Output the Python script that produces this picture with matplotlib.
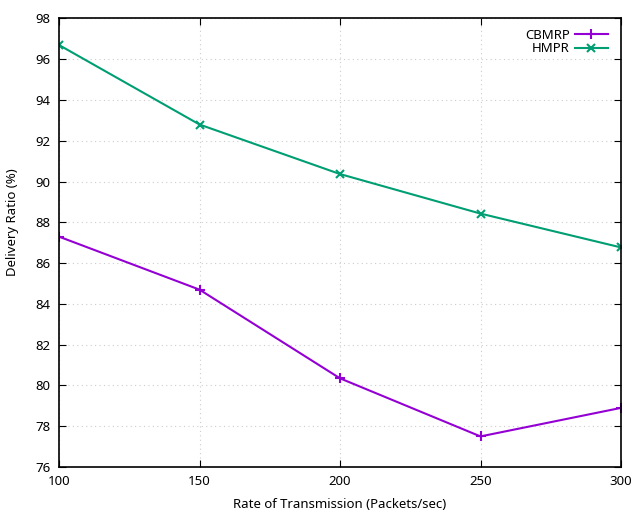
import matplotlib
matplotlib.use("Agg")
import matplotlib.pyplot as plt

plt.rcParams['font.family'] = ['Noto Sans', 'DejaVu Sans']

rate = [100, 150, 200, 250, 300]
cbmrp = [87.3, 84.7, 80.35, 77.5, 78.9]
hmpr = [96.7, 92.8, 90.37, 88.43, 86.77]

fig = plt.figure(figsize=(6.38, 5.11), dpi=100)
ax = fig.add_axes([59/638, 1 - 467/511, (621-59)/638, (467-18.5)/511])

ax.plot(rate, cbmrp, color="#9400D3", lw=1.5, marker="+", ms=7, mew=1.5, label="CBMRP")
ax.plot(rate, hmpr, color="#009E73", lw=1.5, marker="x", ms=6, mew=1.5, label="HMPR")

ax.set_xlim(100, 300)
ax.set_ylim(76, 98)
ax.set_xticks(rate)
ax.set_yticks(range(76, 99, 2))
ax.tick_params(direction="in", top=True, right=True, labelsize=9.5, length=5, pad=6)
ax.grid(True, color="#cccccc", linestyle=(0, (1, 3)), lw=0.8)
for s in ax.spines.values():
    s.set_linewidth(1.2)

ax.set_xlabel("Rate of Transmission (Packets/sec)", fontsize=9.5, labelpad=7)
ax.set_ylabel("Delivery Ratio (%)", fontsize=9.5)
ax.yaxis.set_label_coords(-0.071, 0.546)

ax.legend(loc="upper right", bbox_to_anchor=(1, 1.007), markerfirst=False,
          frameon=False, fontsize=9.5, handlelength=2.5, handletextpad=0.4,
          borderaxespad=0.6, labelspacing=0.05)

fig.savefig("out.png", dpi=100)
